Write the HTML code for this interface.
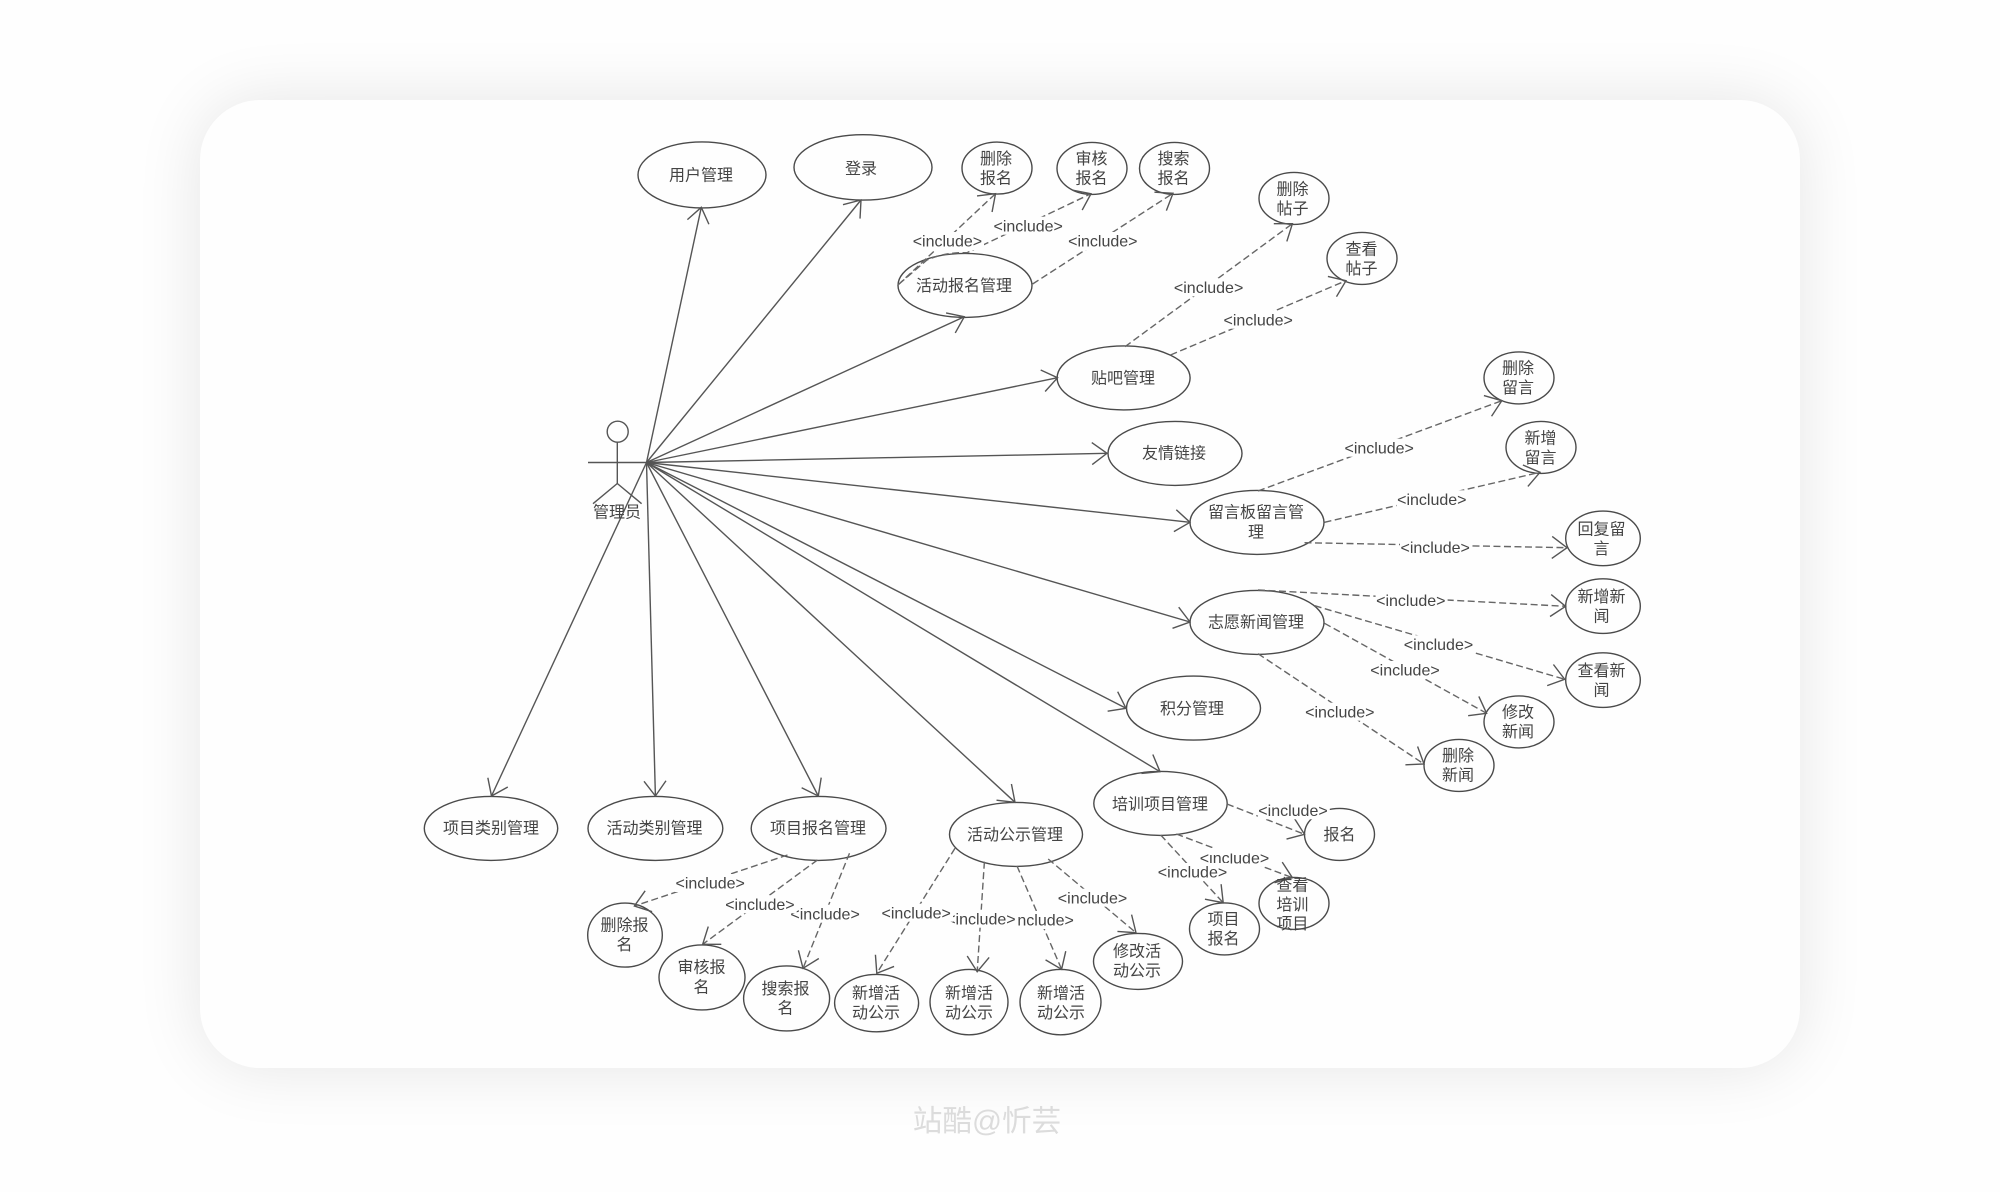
<!DOCTYPE html>
<html lang="zh">
<head>
<meta charset="utf-8">
<title>管理员用例图</title>
<style>
html,body{margin:0;padding:0;width:2000px;height:1192px;overflow:hidden;background:#fefefe}
#card{position:absolute;left:200px;top:100px;width:1600px;height:968px;border-radius:60px;background:#fefefe;box-shadow:0 0 66px rgba(0,0,0,.10)}
#wm{position:absolute;left:787px;top:1101px;width:400px;text-align:center;font:29.6px/42px "Liberation Sans","Noto Sans CJK SC",sans-serif;color:#dcdcdc}
svg{position:absolute;left:0;top:0;filter:blur(.35px)}
text{font-family:"Liberation Sans","Noto Sans CJK SC",sans-serif;font-size:16px;fill:#444;text-anchor:middle;dominant-baseline:central;transform:translateY(1.2px)}
.e{transform:translateY(.4px)}
.e ellipse{fill:none;stroke:#4a4a4a;stroke-width:1.4}
.s line,.a line,.a path{stroke:#555;stroke-width:1.4;fill:none}
.s line{marker-end:url(#v)}
.d line,.d path{stroke:#666;stroke-width:1.4;stroke-dasharray:7 3.5;fill:none;marker-end:url(#v)}
.l rect{fill:#fefefe}
</style>
</head>
<body>
<div id="card"></div>
<div id="wm">站酷@忻芸</div>
<svg width="2000" height="1192" viewBox="0 0 2000 1192" xmlns="http://www.w3.org/2000/svg">
<defs>
<marker id="v" markerUnits="userSpaceOnUse" orient="auto" overflow="visible" markerWidth="1" markerHeight="1" refX="0" refY="0">
<path d="M-15,-11 L0,0 L-15,11" fill="none" stroke="#555" stroke-width="1.4"/>
</marker>
</defs>

<g class="e">
<ellipse cx="702" cy="174.5" rx="64" ry="33"/>
<ellipse cx="863" cy="167" rx="69" ry="32.7"/>
<ellipse cx="997" cy="167.7" rx="35" ry="26"/>
<ellipse cx="1092" cy="168" rx="35" ry="26"/>
<ellipse cx="1174.5" cy="168" rx="35" ry="26"/>
<ellipse cx="965" cy="285" rx="67" ry="32"/>
<ellipse cx="1123.6" cy="377.5" rx="66.5" ry="32"/>
<ellipse cx="1294" cy="198" rx="35" ry="26"/>
<ellipse cx="1362" cy="258" rx="35" ry="26"/>
<ellipse cx="1519" cy="377.5" rx="35" ry="26"/>
<ellipse cx="1541" cy="447" rx="35" ry="26"/>
<ellipse cx="1175" cy="453" rx="67" ry="32"/>
<ellipse cx="1257" cy="522" rx="67" ry="32"/>
<ellipse cx="1603" cy="538" rx="37.3" ry="27.3"/>
<ellipse cx="1603" cy="605.7" rx="37.3" ry="27.3"/>
<ellipse cx="1603" cy="679.7" rx="37.3" ry="27.3"/>
<ellipse cx="1257" cy="622" rx="67" ry="32"/>
<ellipse cx="1519" cy="721.5" rx="35" ry="26"/>
<ellipse cx="1459" cy="765" rx="35" ry="26"/>
<ellipse cx="1193.5" cy="707.7" rx="67" ry="32"/>
<ellipse cx="1160.5" cy="803" rx="66.7" ry="32"/>
<ellipse cx="1339.5" cy="834" rx="35" ry="26"/>
<ellipse cx="1294" cy="903" rx="35" ry="26"/>
<ellipse cx="1224.5" cy="928.5" rx="35" ry="26"/>
<ellipse cx="1138" cy="961" rx="44.5" ry="28"/>
<ellipse cx="1016" cy="834" rx="66.5" ry="32"/>
<ellipse cx="491" cy="828" rx="66.7" ry="32"/>
<ellipse cx="655.4" cy="828" rx="67.4" ry="32"/>
<ellipse cx="818.6" cy="828" rx="67.4" ry="32"/>
<ellipse cx="625" cy="934.7" rx="37.3" ry="32"/>
<ellipse cx="702" cy="977" rx="43" ry="32.5"/>
<ellipse cx="786.6" cy="998" rx="43" ry="32.5"/>
<ellipse cx="876.6" cy="1002.7" rx="42" ry="28.7"/>
<ellipse cx="969" cy="1001.7" rx="39" ry="32.7"/>
<ellipse cx="1060.5" cy="1001.7" rx="40.5" ry="32.7"/>
</g>

<!-- actor -->
<g class="a">
<ellipse cx="617.7" cy="431.7" rx="10.5" ry="10.5" fill="none" stroke="#555" stroke-width="1.4"/>
<line x1="617.3" y1="442" x2="617.3" y2="483.5"/>
<line x1="588" y1="462.5" x2="647" y2="462.5"/>
<line x1="617.3" y1="483.5" x2="593" y2="503.7"/>
<line x1="617.3" y1="483.5" x2="641.6" y2="503.7"/>
</g>

<!-- solid associations -->
<g class="s">
<line x1="646.5" y1="462.5" x2="701.3" y2="207.3"/>
<line x1="646.5" y1="462.5" x2="861" y2="200"/>
<line x1="646.5" y1="462.5" x2="964.3" y2="316.7"/>
<line x1="646.5" y1="462.5" x2="1057.6" y2="377.7"/>
<line x1="646.5" y1="462.5" x2="1107" y2="453.3"/>
<line x1="646.5" y1="462.5" x2="1190" y2="522.3"/>
<line x1="646.5" y1="462.5" x2="1190" y2="622"/>
<line x1="646.5" y1="462.5" x2="1126" y2="708.3"/>
<line x1="646.5" y1="462.5" x2="1160" y2="771.7"/>
<line x1="646.5" y1="462.5" x2="1015" y2="802.3"/>
<line x1="646.5" y1="462.5" x2="818.3" y2="796"/>
<line x1="646.5" y1="462.5" x2="655.4" y2="796"/>
<line x1="646.5" y1="462.5" x2="491.5" y2="796"/>
</g>

<!-- dashed includes -->
<g class="d">
<line x1="898" y1="285" x2="995.5" y2="193.7"/>
<path d="M899,284 L927,260 Q945,252 967,252.7 L1091,193.7"/>
<line x1="1032.6" y1="284" x2="1173" y2="193.3"/>
<line x1="1125" y1="346.7" x2="1292.4" y2="223.7"/>
<line x1="1170.5" y1="355" x2="1346" y2="280.7"/>
<line x1="1258" y1="491" x2="1501.8" y2="400.7"/>
<line x1="1324.5" y1="522.3" x2="1540" y2="472.3"/>
<line x1="1304.5" y1="542.7" x2="1567" y2="547.7"/>
<line x1="1258" y1="590" x2="1565.6" y2="606.3"/>
<line x1="1314.7" y1="605.7" x2="1564.7" y2="679.3"/>
<line x1="1324.5" y1="623.3" x2="1486.6" y2="713.3"/>
<line x1="1258" y1="653.7" x2="1424" y2="764"/>
<line x1="1227" y1="804" x2="1304.5" y2="834.3"/>
<line x1="1176.3" y1="834" x2="1292.4" y2="877.7"/>
<line x1="1160.7" y1="835" x2="1223.2" y2="902.7"/>
<line x1="1048.2" y1="859" x2="1136" y2="932.7"/>
<line x1="955" y1="848.3" x2="876.8" y2="973.3"/>
<line x1="984.4" y1="861.7" x2="977.2" y2="971.7"/>
<line x1="1017" y1="866" x2="1061.6" y2="969.3"/>
<line x1="787.5" y1="855" x2="634.4" y2="906"/>
<line x1="817.4" y1="860" x2="702.7" y2="944.3"/>
<line x1="849.5" y1="853.3" x2="803" y2="968.3"/>
</g>

<!-- include labels -->
<g class="l">
<rect x="912" y="232" width="72" height="18"/><text x="947.4" y="241">&lt;include&gt;</text>
<rect x="993" y="216.7" width="72" height="18"/><text x="1028.2" y="225.7">&lt;include&gt;</text>
<rect x="1067.6" y="232" width="72" height="18"/><text x="1102.8" y="241">&lt;include&gt;</text>
<rect x="1173.4" y="278.3" width="72" height="18"/><text x="1208.6" y="287.3">&lt;include&gt;</text>
<rect x="1223" y="310.7" width="72" height="18"/><text x="1258.2" y="319.7">&lt;include&gt;</text>
<rect x="1344" y="438.7" width="72" height="18"/><text x="1379.2" y="447.7">&lt;include&gt;</text>
<rect x="1396.6" y="490.3" width="72" height="18"/><text x="1431.8" y="499.3">&lt;include&gt;</text>
<rect x="1400" y="538.3" width="72" height="18"/><text x="1435.2" y="547.3">&lt;include&gt;</text>
<rect x="1375.6" y="591.3" width="72" height="18"/><text x="1410.8" y="600.3">&lt;include&gt;</text>
<rect x="1403.3" y="635.3" width="72" height="18"/><text x="1438.5" y="644.3">&lt;include&gt;</text>
<rect x="1369.8" y="661" width="72" height="18"/><text x="1405" y="670">&lt;include&gt;</text>
<rect x="1304.6" y="702.7" width="72" height="18"/><text x="1339.8" y="711.7">&lt;include&gt;</text>
<rect x="1257.8" y="801.3" width="72" height="18"/><text x="1293" y="810.3">&lt;include&gt;</text>
<rect x="1199.3" y="848.7" width="72" height="18"/><text x="1234.5" y="857.7">&lt;include&gt;</text>
<rect x="1200" y="848" width="72" height="5.5"/>
<rect x="1157.3" y="863" width="72" height="18"/><text x="1192.5" y="872">&lt;include&gt;</text>
<rect x="1057.3" y="888.7" width="72" height="18"/><text x="1092.5" y="897.7">&lt;include&gt;</text>
<rect x="1004" y="911" width="72" height="18"/><text x="1039.2" y="920">&lt;include&gt;</text>
<rect x="945.7" y="909.7" width="72" height="18"/><text x="980.9" y="918.7">&lt;include&gt;</text>
<rect x="881" y="903.7" width="72" height="18"/><text x="916.2" y="912.7">&lt;include&gt;</text>
<rect x="675" y="874" width="72" height="18"/><text x="710.2" y="883">&lt;include&gt;</text>
<rect x="789.9" y="904.7" width="72" height="18"/><text x="825.1" y="913.7">&lt;include&gt;</text>
<rect x="724.7" y="895.3" width="72" height="18"/><text x="759.9" y="904.3">&lt;include&gt;</text>
</g>

<!-- node text -->
<g>
<text x="617" y="511.7">管理员</text>
<text x="701" y="175">用户管理</text>
<text x="861" y="168.3">登录</text>
<text x="996" y="158.3">删除</text><text x="996" y="177.7">报名</text>
<text x="1091.5" y="158.3">审核</text><text x="1091.5" y="177.7">报名</text>
<text x="1173.5" y="158.3">搜索</text><text x="1173.5" y="177.7">报名</text>
<text x="964" y="285.5">活动报名管理</text>
<text x="1123" y="378">贴吧管理</text>
<text x="1292.5" y="189">删除</text><text x="1292.5" y="208.5">帖子</text>
<text x="1361.5" y="249">查看</text><text x="1361.5" y="268.5">帖子</text>
<text x="1518" y="368">删除</text><text x="1518" y="387.5">留言</text>
<text x="1540.5" y="438">新增</text><text x="1540.5" y="457.5">留言</text>
<text x="1174" y="453">友情链接</text>
<text x="1256" y="512">留言板留言管</text><text x="1256" y="531.7">理</text>
<text x="1601.5" y="529">回复留</text><text x="1601.5" y="548.5">言</text>
<text x="1601.5" y="596.5">新增新</text><text x="1601.5" y="616">闻</text>
<text x="1601.5" y="670.5">查看新</text><text x="1601.5" y="690">闻</text>
<text x="1256" y="622">志愿新闻管理</text>
<text x="1518" y="712">修改</text><text x="1518" y="731.5">新闻</text>
<text x="1458" y="755.5">删除</text><text x="1458" y="775">新闻</text>
<text x="1192" y="708.5">积分管理</text>
<text x="1160" y="804">培训项目管理</text>
<text x="1339.5" y="834.5">报名</text>
<text x="1292.4" y="885">查看</text><text x="1292.4" y="904.3">培训</text><text x="1292.4" y="923.3">项目</text>
<text x="1223.5" y="919">项目</text><text x="1223.5" y="938.5">报名</text>
<text x="1137" y="951">修改活</text><text x="1137" y="970.5">动公示</text>
<text x="1015" y="834.5">活动公示管理</text>
<text x="491" y="828">项目类别管理</text>
<text x="654.5" y="828">活动类别管理</text>
<text x="818" y="828">项目报名管理</text>
<text x="624.5" y="925">删除报</text><text x="624.5" y="944.5">名</text>
<text x="701.5" y="967">审核报</text><text x="701.5" y="987">名</text>
<text x="785.5" y="988.5">搜索报</text><text x="785.5" y="1008">名</text>
<text x="876" y="993">新增活</text><text x="876" y="1012.5">动公示</text>
<text x="969" y="993">新增活</text><text x="969" y="1012.5">动公示</text>
<text x="1061" y="993">新增活</text><text x="1061" y="1012.5">动公示</text>
</g>
</svg>
</body>
</html>
